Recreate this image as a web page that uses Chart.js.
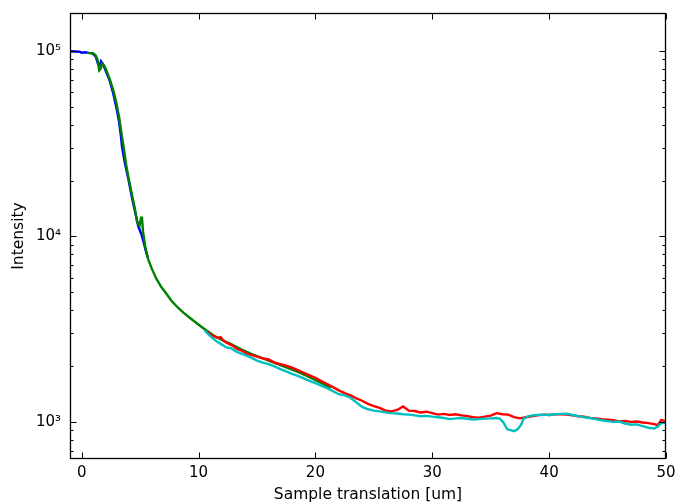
<!DOCTYPE html>
<html>
<head>
<meta charset="utf-8">
<script src="https://cdn.jsdelivr.net/npm/chart.js@4/dist/chart.umd.min.js"></script>
<style>
html,body{margin:0;padding:0;background:#fff;}
#wrap{width:676px;height:504px;}
</style>
</head>
<body>
<div id="wrap"><canvas id="chart" width="676" height="504"></canvas></div>
<script>
// ===== data =====
const blueX = [-1, -0.6, -0.2, 0.0, 0.3, 0.6, 0.9, 1.2, 1.4, 1.55,
  1.65, 1.8, 2.1, 2.4, 2.7, 3.0, 3.2, 3.35, 3.45, 3.7,
  4.0, 4.3, 4.6, 4.85, 5.1, 5.3, 5.5, 5.65];
const blueY = [99500, 99200, 99000, 97800, 98300, 97600, 97200, 93000, 85000, 84000,
  88000, 85500, 77000, 69000, 59000, 48500, 41500, 35000, 30500, 24800,
  20300, 16200, 13300, 11300, 10300, 9300, 8300, 7700];

const greenX = [0.45, 0.7, 1.0, 1.2, 1.35, 1.5, 1.62, 1.75, 1.9, 2.1,
  2.4, 2.7, 2.95, 3.2, 3.45, 3.6, 3.8, 4.0, 4.3, 4.55,
  4.75, 4.95, 5.08, 5.15, 5.25, 5.45, 5.7, 6.0, 6.4, 6.8,
  7.2, 7.7, 8.2, 8.7, 9.3, 9.9, 10.5, 11.2, 11.9, 12.7,
  13.6, 14.5, 15.5, 16.5, 17.5, 18.5, 19.5, 20.5, 21.3];
const greenY = [97600, 97300, 96800, 94500, 90000, 78500, 80000, 85500, 84000, 79000,
  70500, 61500, 53000, 44000, 34500, 30000, 24500, 20800, 16800, 14100,
  11900, 11400, 12600, 12800, 10600, 8700, 7500, 6700, 5900, 5350,
  4950, 4480, 4150, 3880, 3620, 3380, 3170, 2950, 2780, 2640,
  2470, 2330, 2200, 2080, 1970, 1860, 1740, 1620, 1520];

const redX = [10.7, 11.0, 11.3, 11.6, 11.9, 12.2, 12.5, 12.9, 13.3, 13.7, 14.1, 14.5,
  15.0, 15.5, 16.0, 16.5, 17.0, 17.5, 18.0, 18.5, 19.0, 19.5,
  20.0, 20.5, 21.0, 21.5, 22.0, 22.5, 23.0, 23.5, 24.0, 24.5,
  25.0, 25.5, 26.0, 26.5, 27.0, 27.5, 28.0, 28.5, 29.0, 29.5,
  30.0, 30.5, 31.0, 31.5, 32.0, 32.5, 33.0, 33.5, 34.0, 34.5,
  35.0, 35.5, 36.0, 36.5, 37.0, 37.5, 38.0, 38.5, 39.0, 39.5,
  40.0, 40.5, 41.0, 41.5, 42.0, 42.5, 43.0, 43.5, 44.0, 44.5,
  45.0, 45.5, 46.0, 46.5, 47.0, 47.5, 48.0, 48.5, 49.0,
  49.3, 49.6, 50.0];
const redY = [3080, 2960, 2900, 2840, 2860, 2720, 2650, 2580, 2470, 2420, 2340, 2300,
  2250, 2200, 2170, 2090, 2050, 2010, 1960, 1900, 1840, 1780,
  1730, 1660, 1600, 1540, 1480, 1430, 1390, 1340, 1300, 1250,
  1215, 1190, 1150, 1140, 1160, 1210, 1150, 1145, 1125, 1135,
  1115, 1095, 1105, 1090, 1100, 1085, 1075, 1060, 1055, 1068,
  1080, 1115, 1100, 1095, 1060, 1045, 1060, 1072, 1085, 1095,
  1090, 1098, 1100, 1095, 1085, 1072, 1068, 1051, 1045, 1035,
  1029, 1020, 1007, 1012, 1000, 1005, 992, 985, 972,
  960, 1025, 1005];

const cyanX = [10.5, 10.8, 11.2, 11.6, 12.0, 12.4, 12.8, 13.2, 13.6, 14.0, 14.5,
  15.0, 15.5, 16.0, 16.5, 17.0, 17.5, 18.0, 18.5, 19.0, 19.5,
  20.0, 20.5, 21.0, 21.5, 22.0, 22.5, 23.0, 23.5, 24.0, 24.5,
  25.0, 25.5, 26.0, 26.5, 27.0, 27.5, 28.0, 28.5, 29.0, 29.5,
  30.0, 30.5, 31.0, 31.5, 32.0, 32.5, 33.0, 33.5, 34.0, 34.5,
  35.0, 35.5,
  35.8, 36.1, 36.4, 36.7, 37.0, 37.3, 37.6, 37.8, 38.2, 38.6, 39.0,
  39.5, 40.0, 40.5, 41.0, 41.5, 42.0, 42.5, 43.0, 43.5, 44.0,
  44.5, 45.0, 45.5, 46.0, 46.5, 47.0, 47.5, 48.0, 48.5, 49.0,
  49.3, 49.6, 50.0];
const cyanY = [3120, 2980, 2830, 2700, 2610, 2520, 2490, 2400, 2340, 2290, 2220,
  2140, 2085, 2050, 1990, 1925, 1870, 1815, 1770, 1715, 1665,
  1620, 1570, 1520, 1465, 1410, 1390, 1350, 1275, 1205, 1170,
  1150, 1140, 1125, 1115, 1110, 1100, 1095, 1085, 1072, 1078,
  1068, 1060, 1050, 1035, 1045, 1050, 1040, 1030, 1035, 1042,
  1045, 1050,
  1040, 990, 915, 902, 892, 912, 965, 1040, 1072, 1085, 1090,
  1095, 1090, 1100, 1105, 1108, 1090, 1075, 1060, 1050, 1035,
  1020, 1010, 1000, 1005, 980, 965, 970, 950, 930, 920,
  945, 985, 990];

const xTicks = [0, 10, 20, 30, 40, 50];
const yTicks = [1e3, 1e4, 1e5];
const yTickLabels = ["10³", "10⁴", "10⁵"];
const yMinorTicks = [700, 800, 900, 2000, 3000, 4000, 5000, 6000, 7000, 8000, 9000,
  20000, 30000, 40000, 50000, 60000, 70000, 80000, 90000];

// ===== helpers =====
function pts(xs, ys){ return xs.map((x, i) => ({ x, y: ys[i] })); }
function series(xs, ys, color, order){
  return { data: pts(xs, ys), borderColor: color, borderWidth: 2.4, pointRadius: 0,
    showLine: true, tension: 0, fill: false, order };
}

// frame + inward ticks on all four sides (classic matplotlib look)
const frameTicks = {
  id: "frameTicks",
  afterDatasetsDraw(chart){
    const { ctx, chartArea: a, scales: { x, y } } = chart;
    const L = a.left + 0.5, R = a.right - 0.5, T = a.top + 0.5, B = a.bottom - 0.5;
    ctx.save();
    ctx.strokeStyle = "#000";
    ctx.lineWidth = 1;
    ctx.beginPath();
    xTicks.forEach(v => {
      const px = Math.round(x.getPixelForValue(v)) + 0.5;
      ctx.moveTo(px, B); ctx.lineTo(px, B - 6);
      ctx.moveTo(px, T); ctx.lineTo(px, T + 6);
    });
    yTicks.forEach(v => {
      const py = Math.round(y.getPixelForValue(v)) + 0.5;
      ctx.moveTo(L, py); ctx.lineTo(L + 6, py);
      ctx.moveTo(R, py); ctx.lineTo(R - 6, py);
    });
    yMinorTicks.forEach(v => {
      const py = Math.round(y.getPixelForValue(v)) + 0.5;
      ctx.moveTo(L, py); ctx.lineTo(L + 3, py);
      ctx.moveTo(R, py); ctx.lineTo(R - 3, py);
    });
    ctx.stroke();
    ctx.lineWidth = 1.3;
    ctx.strokeRect(L, T, R - L, B - T);
    ctx.restore();
  }
};

const TICK_FONT = { family: "'DejaVu Sans', sans-serif", size: 15 };
const TITLE_FONT = { family: "'DejaVu Sans', sans-serif", size: 15.5 };

new Chart(document.getElementById("chart"), {
  type: "scatter",
  data: {
    datasets: [
      series(blueX, blueY, "#0000ff", 4),
      series(greenX, greenY, "#008000", 3),
      series(redX, redY, "#ff0000", 2),
      series(cyanX, cyanY, "#00bfbf", 1)
    ]
  },
  options: {
    responsive: false,
    animation: false,
    devicePixelRatio: 1,
    layout: { padding: { top: 13, right: 10, left: 0, bottom: 0 } },
    plugins: { legend: { display: false }, tooltip: { enabled: false } },
    scales: {
      x: {
        type: "linear", min: -1, max: 50,
        grid: { display: false, drawTicks: false },
        border: { display: false },
        afterBuildTicks: s => { s.ticks = xTicks.map(v => ({ value: v })); },
        afterFit: s => { s.height = 45; s.paddingLeft = 0; s.paddingRight = 0; },
        ticks: { color: "#000", font: TICK_FONT, padding: 5, maxRotation: 0, autoSkip: false,
          callback: v => String(v) },
        title: { display: true, text: "Sample translation [um]", color: "#000", font: TITLE_FONT,
          padding: { top: 0, bottom: 0 } }
      },
      y: {
        type: "logarithmic", min: 631, max: 160000,
        grid: { display: false, drawTicks: false },
        border: { display: false },
        afterBuildTicks: s => { s.ticks = yTicks.map(v => ({ value: v })); },
        afterFit: s => { s.width = 70; s.paddingTop = 0; s.paddingBottom = 0; },
        ticks: { color: "#000", font: TICK_FONT, padding: 9, autoSkip: false,
          callback: (v, i) => yTickLabels[i] },
        title: { display: true, text: "Intensity", color: "#000", font: TITLE_FONT,
          padding: { top: 10, bottom: 0 } }
      }
    }
  },
  plugins: [frameTicks]
});
</script>
</body>
</html>
